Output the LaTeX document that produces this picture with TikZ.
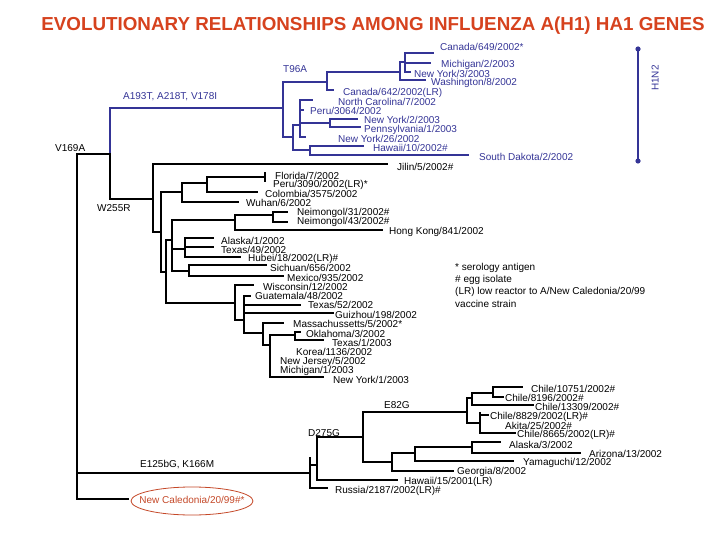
\documentclass[tikz,border=0pt]{standalone}
\usepackage{fontspec}
\setmainfont{Liberation Sans}
\definecolor{tblue}{RGB}{52,52,150}
\definecolor{tred}{RGB}{214,66,30}
\definecolor{ered}{RGB}{196,72,40}
\newcommand\tvl[4][]{\draw[br,#1] (#2,#3)--(#2,#4);}
\newcommand\thl[4][]{\draw[br,#1] (#3,#2)--(#4,#2);}
\begin{document}
\begin{tikzpicture}[x=1pt,y=-1pt,
  br/.style={line width=2.6pt,line cap=rect,black},
  bb/.style={tblue},
  thin/.style={line width=1.8pt},
  lab/.style={font=\fontsize{10}{11}\selectfont,inner sep=0pt,anchor=west},
  blab/.style={lab,text=tblue},
  mut/.style={lab}]
\useasboundingbox (0,0) rectangle (720,540);
% title
\node[font=\bfseries\fontsize{18.8}{20}\selectfont,text=tred] (title) at (373,26) {EVOLUTIONARY RELATIONSHIPS AMONG INFLUENZA A(H1) HA1 GENES};
% ---------------- blue (H1N2) subtree
\tvl[bb,thin]{110}{108}{154}
\thl[bb]{108}{110}{283}
\tvl[bb]{283}{82}{137}
\thl[bb]{82}{283}{327}
\tvl[bb]{327}{72}{90}
\thl[bb]{90}{327}{333}
\thl[bb]{72}{327}{400}
\tvl[bb]{400}{62}{80}
\thl[bb]{80}{400}{425}
\thl[bb]{62}{400}{405}
\tvl[bb]{405}{53}{72}
\thl[bb]{53}{405}{433}
\thl[bb]{63}{405}{430}
\thl[bb]{72}{405}{410}
\thl[bb]{137}{283}{293}
\tvl[bb]{293}{125}{150}
\thl[bb]{125}{293}{300}
\tvl[bb]{300}{100}{137}
\thl[bb]{100}{300}{312}
\thl[bb]{110}{300}{303}
\thl[bb]{123}{300}{330}
\tvl[bb]{330}{119}{127}
\thl[bb]{119}{330}{357}
\thl[bb]{127}{330}{360}
\thl[bb]{137}{300}{305}
\thl[bb]{150}{293}{310}
\tvl[bb]{310}{146}{155}
\thl[bb]{146}{310}{363}
\thl[bb]{155}{310}{468}
\node[mut,text=tblue] (m1) at (123,97) {A193T, A218T, V178I};
\node[mut,text=tblue] (m2) at (283,69) {T96A};
\node[blab] (l1) at (440,47) {Canada/649/2002*};
\node[blab] (l2) at (441,65) {Michigan/2/2003};
\node[blab] (l3) at (414,74) {New York/3/2003};
\node[blab] (l4) at (431,83) {Washington/8/2002};
\node[blab] (l5) at (343,93) {Canada/642/2002(LR)};
\node[blab] (l6) at (338,102) {North Carolina/7/2002};
\node[blab] (l7) at (310,111) {Peru/3064/2002};
\node[blab] (l8) at (364,120) {New York/2/2003};
\node[blab] (l9) at (364,130) {Pennsylvania/1/2003};
\node[blab] (l10) at (338,139) {New York/26/2002};
\node[blab] (l11) at (373,148) {Hawaii/10/2002\#};
\node[blab] (l12) at (479,157) {South Dakota/2/2002};
% H1N2 bar
\coordinate (h1) at (638,49);
\coordinate (h2) at (638,161);
\draw[tblue,line width=1.6pt] (h1)--(h2);
\fill[tblue] (h1) circle (2.6) (h2) circle (2.6);
\node[font=\fontsize{10}{11}\selectfont,text=tblue,rotate=90] (h1n2) at (655,78) {H1N2};
% ---------------- black subtree
\node[mut] (m3) at (55,148) {V169A};
\node[mut] (m4) at (97,208) {W255R};
\thl{154}{77}{110}
\tvl{110}{154}{199}
\thl{199}{110}{153}
\tvl{153}{164}{232}
\thl[thin]{164}{153}{387}
\thl{232}{153}{161}
\tvl{161}{192}{272}
\thl{192}{161}{182}
\tvl{182}{183}{202}
\thl{183}{182}{207}
\tvl{207}{177}{192}
\thl{177}{207}{265}
\tvl[thin]{265}{173}{181}
\thl{192}{207}{257}
\thl{202}{182}{238}
\thl{272}{161}{166}
\tvl{166}{240}{303}
\thl{240}{166}{172}
\tvl{172}{220}{271}
\thl{220}{172}{235}
\tvl{235}{215}{230}
\thl{215}{235}{273}
\tvl{273}{212}{222}
\thl{212}{273}{287}
\thl{222}{273}{287}
\thl[thin]{230}{235}{382}
\thl{249}{172}{185}
\tvl{185}{238}{257}
\thl{238}{185}{213}
\thl{247}{185}{213}
\thl{257}{185}{240}
\thl{271}{172}{189}
\tvl{189}{265}{276}
\thl{265}{189}{266}
\thl{276}{189}{283}
\thl{303}{166}{235}
\tvl{235}{285}{320}
\thl{285}{235}{253}
\thl{320}{235}{244}
\tvl{244}{296}{333}
\thl{296}{244}{250}
\thl{305}{244}{300}
\thl{313}{244}{333}
\thl{333}{244}{263}
\tvl{263}{323}{345}
\thl{323}{263}{283}
\thl{345}{263}{270}
\tvl{270}{335}{377}
\thl{335}{270}{295}
\thl{377}{270}{323}
\tvl{295}{332}{340}
\thl{332}{295}{300}
\thl{340}{295}{323}
\node[lab] (k1) at (397,167) {Jilin/5/2002\#};
\node[lab] (k2) at (275,176) {Florida/7/2002};
\node[lab] (k3) at (273,185) {Peru/3090/2002(LR)*};
\node[lab] (k4) at (265,194) {Colombia/3575/2002};
\node[lab] (k5) at (246,203) {Wuhan/6/2002};
\node[lab] (k6) at (297,213) {Neimongol/31/2002\#};
\node[lab] (k7) at (297,222) {Neimongol/43/2002\#};
\node[lab] (k8) at (389,232) {Hong Kong/841/2002};
\node[lab] (k9) at (221,241) {Alaska/1/2002};
\node[lab] (k10) at (221,250) {Texas/49/2002};
\node[lab] (k11) at (248,259) {Hubei/18/2002(LR)\#};
\node[lab] (k12) at (270,268) {Sichuan/656/2002};
\node[lab] (k13) at (287,278) {Mexico/935/2002};
\node[lab] (k14) at (263,287) {Wisconsin/12/2002};
\node[lab] (k15) at (255,296) {Guatemala/48/2002};
\node[lab] (k16) at (308,305) {Texas/52/2002};
\node[lab] (k17) at (335,315) {Guizhou/198/2002};
\node[lab] (k18) at (293,324) {Massachussetts/5/2002*};
\node[lab] (k19) at (306,334) {Oklahoma/3/2002};
\node[lab] (k20) at (332,343) {Texas/1/2003};
\node[lab] (k21) at (296,352) {Korea/1136/2002};
\node[lab] (k22) at (280,362) {New Jersey/5/2002};
\node[lab] (k23) at (280,371) {Michigan/1/2003};
\node[lab] (k24) at (333,380) {New York/1/2003};
% root and New Caledonia clade
\tvl{77}{154}{499}
\thl{473}{77}{310}
\thl{499}{77}{128}
\node[mut] (m5) at (140,465) {E125bG, K166M};
\tvl{310}{458}{488}
\thl{488}{310}{327}
\thl{465}{310}{317}
\tvl{317}{437}{480}
\thl{480}{317}{397}
\thl{437}{317}{363}
\node[mut] (m6) at (308,433) {D275G};
\tvl{363}{412}{462}
\thl{412}{363}{467}
\node[mut] (m7) at (384,405) {E82G};
\thl{462}{363}{392}
\tvl{392}{453}{471}
\thl{471}{392}{453}
\thl{453}{392}{415}
\tvl{415}{447}{461}
\thl{461}{415}{513}
\thl{447}{415}{472}
\tvl{472}{442}{453}
\thl{442}{472}{500}
\thl{453}{472}{580}
\tvl{467}{398}{423}
\thl{398}{467}{472}
\thl{423}{467}{480}
\tvl{472}{393}{405}
\thl{405}{472}{533}
\thl{393}{472}{493}
\tvl{493}{387}{397}
\thl{387}{493}{522}
\thl{397}{493}{503}
\tvl{480}{413}{433}
\thl{415}{480}{488}
\thl{433}{480}{515}
\node[lab] (c1) at (531,389) {Chile/10751/2002\#};
\node[lab] (c2) at (505,398) {Chile/8196/2002\#};
\node[lab] (c3) at (535,407) {Chile/13309/2002\#};
\node[lab] (c4) at (490,417) {Chile/8829/2002(LR)\#};
\node[lab] (c5) at (505,426) {Akita/25/2002\#};
\node[lab] (c6) at (517,435) {Chile/8665/2002(LR)\#};
\node[lab] (c7) at (509,445) {Alaska/3/2002};
\node[lab] (c8) at (589,454) {Arizona/13/2002};
\node[lab] (c9) at (523,463) {Yamaguchi/12/2002};
\node[lab] (c10) at (457,472) {Georgia/8/2002};
\node[lab] (c11) at (404,482) {Hawaii/15/2001(LR)};
\node[lab] (c12) at (335,491) {Russia/2187/2002(LR)\#};
\draw[ered,line width=0.8pt] (192,501) ellipse (61 and 14);
\node[inner sep=0pt,text=ered,font=\fontsize{10}{11}\selectfont] (nc) at (192,500) {New Caledonia/20/99\#*};
% legend
\node[lab] (g1) at (455,268) {* serology antigen};
\node[lab] (g2) at (455,280) {\# egg isolate};
\node[lab] (g3) at (455,292) {(LR) low reactor to A/New Caledonia/20/99};
\node[lab] (g4) at (455,304) {vaccine strain};
\end{tikzpicture}
\end{document}
